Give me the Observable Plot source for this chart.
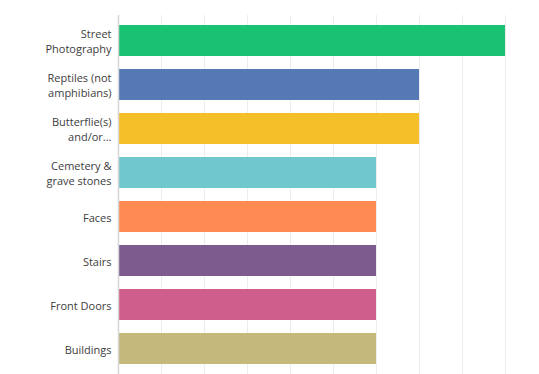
<!DOCTYPE html>
<html>
<head>
<meta charset="utf-8">
<script src="https://cdn.jsdelivr.net/npm/d3@7"></script>
<script src="https://cdn.jsdelivr.net/npm/@observablehq/plot@0.6"></script>
<style>
  html, body { margin: 0; padding: 0; background: #fff; }
  #chart svg { display: block; }
</style>
</head>
<body>
<div id="chart"></div>
<script>
const categories = ["Street Photography", "Reptiles (not amphibians)", "Butterflie(s) and/or...", "Cemetery & grave stones", "Faces", "Stairs", "Front Doors", "Buildings"];
const labels = ["Street\nPhotography", "Reptiles (not\namphibians)", "Butterflie(s)\nand/or...", "Cemetery &\ngrave stones", "Faces", "Stairs", "Front Doors", "Buildings"];
const values = [9, 7, 7, 6, 6, 6, 6, 6];
const colors = ["#19c173", "#5579b5", "#f5bf29", "#70c8cc", "#ff8b52", "#7d5b8e", "#d05e8d", "#c4b97b"];
const gridTicks = [1, 2, 3, 4, 5, 6, 7, 8, 9];

const data = categories.map((c, i) => ({category: c, label: labels[i], value: values[i], color: colors[i]}));

const chart = Plot.plot({
  width: 539,
  height: 374,
  marginLeft: 118,
  marginRight: 34,
  marginTop: 15,
  marginBottom: 0,
  style: {fontFamily: "'Open Sans', sans-serif", fontSize: "11px", color: "#333"},
  x: {domain: [0, 9], axis: null},
  y: {domain: categories, axis: null, paddingInner: 0.29, paddingOuter: 0.14},
  marks: [
    Plot.ruleX(gridTicks, {stroke: "#ececec", strokeWidth: 1}),
    Plot.barX(data, {y: "category", x: "value", fill: "color"}),
    Plot.ruleX([0], {stroke: "#d6d6d6", strokeWidth: 1.5}),
    Plot.text(data, {y: "category", x: 0, text: "label", textAnchor: "end", dx: -7, lineHeight: 1.3, fill: "#3d3d3d", fontSize: 11})
  ]
});
document.getElementById("chart").appendChild(chart);
</script>
</body>
</html>
